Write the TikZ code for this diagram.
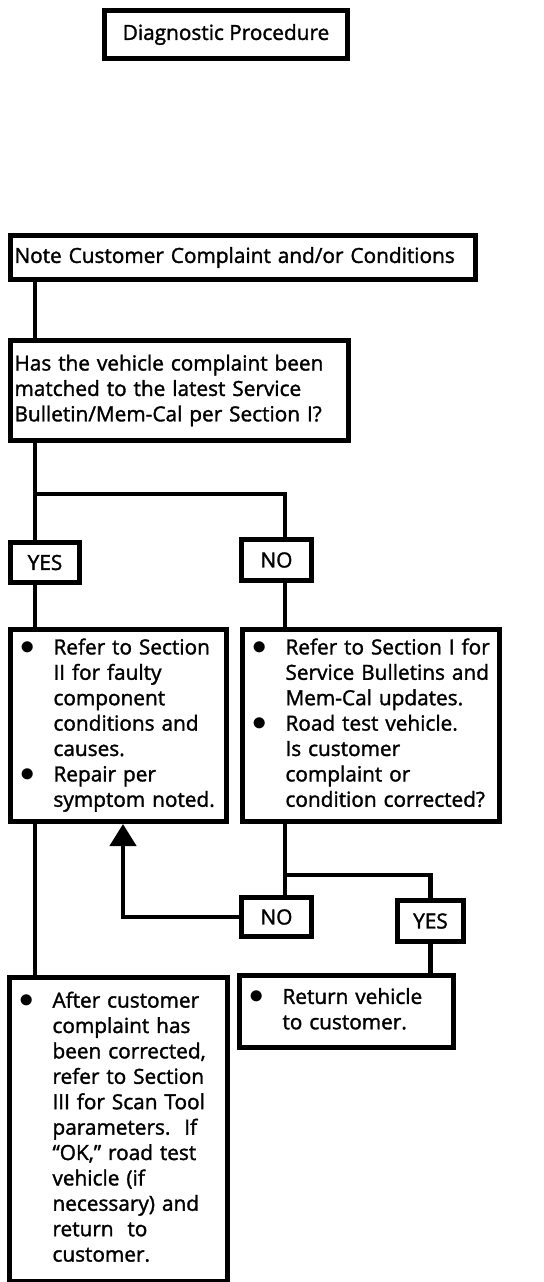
\documentclass[tikz,border=0pt]{standalone}
\usepackage{fontspec}
\setmainfont{Open Sans}[FakeBold=1.6]
\usetikzlibrary{arrows.meta,positioning}

\newcommand{\bul}{{\Large$\bullet$}}

\begin{document}
\begin{tikzpicture}[
  x=0.5pt, y=-0.5pt,
  font=\fontsize{10.4}{12.7}\selectfont,
  box/.style={draw, line width=2.5pt, anchor=north west, align=left, inner xsep=2pt, inner ysep=0pt},
  listbox/.style={box, inner xsep=5pt},
  tag/.style={draw, line width=2.5pt, anchor=north west, inner sep=0pt, align=center},
  wire/.style={line width=2.2pt},
  arr/.style={line width=2.2pt, -{Triangle[width=13pt,length=11pt]}}
]
\useasboundingbox (0,0) rectangle (544,1282);

% Header
\node[tag, minimum width=121.5pt, minimum height=24pt] (title) at (102,8) {Diagnostic Procedure};

% Nodes
\node[box, text width=228.5pt, minimum height=22pt] (note) at (8,233)
  {Note Customer Complaint and/or Conditions};

\node[box, text width=165pt, minimum height=50pt] (match) at (8,338)
  {Has the vehicle complaint been\\matched to the latest Service\\Bulletin/Mem-Cal per Section I?};

\node[tag, minimum width=34.5pt, minimum height=20pt] (yes1) at (8,540) {YES};
\node[tag, minimum width=35pt, minimum height=20.5pt] (no1) at (239,537) {NO};

\node[listbox, text width=98pt, minimum height=96pt] (repair) at (8,627)
  {\begin{tabular}{@{}p{16.5pt}@{}l@{}}
   \bul & Refer to Section\\
        & II for faulty\\
        & component\\
        & conditions and\\
        & causes.\\
   \bul & Repair per\\
        & symptom noted.
   \end{tabular}};

\node[listbox, text width=118.5pt, minimum height=96pt] (check) at (240,627)
  {\begin{tabular}{@{}p{16.5pt}@{}l@{}}
   \bul & Refer to Section I for\\
        & Service Bulletins and\\
        & Mem-Cal updates.\\
   \bul & Road test vehicle.\\
        & Is customer\\
        & complaint or\\
        & condition corrected?
   \end{tabular}};

\node[tag, minimum width=35pt, minimum height=19.5pt] (no2) at (239,895) {NO};
\node[tag, minimum width=33pt, minimum height=20.5pt] (yes2) at (395,898) {YES};

\node[listbox, text width=97pt, minimum height=36pt] (ret) at (237,973)
  {\begin{tabular}{@{}p{16.5pt}@{}l@{}}
   \bul & Return vehicle\\
        & to customer.
   \end{tabular}};

\node[listbox, text width=99pt, minimum height=152pt] (fin) at (7,975)
  {\begin{tabular}{@{}p{16.5pt}@{}l@{}}
   \bul & After customer\\
        & complaint has\\
        & been corrected,\\
        & refer to Section\\
        & III for Scan Tool\\
        & parameters.\ \ If\\
        & “OK,” road test\\
        & vehicle (if\\
        & necessary) and\\
        & return\ \ to\\
        & customer.
   \end{tabular}};

% Connectors
\coordinate (spine) at (35,0);
\coordinate (rcol) at (285,0);
\coordinate (back) at (123,0);
\coordinate (fork) at (35,494);
\coordinate (fork2) at (285,875);

\draw[wire] (note.south -| spine) -- (match.north -| spine);
\draw[wire] (match.south -| spine) -- (yes1.north -| spine);
\draw[wire] (fork) -| (no1.north -| rcol);
\draw[wire] (yes1.south -| spine) -- (repair.north -| spine);
\draw[wire] (no1.south -| rcol) -- (check.north -| rcol);
\draw[wire] (check.south -| rcol) -- (no2.north -| rcol);
\draw[wire] (fork2) -| (yes2.north);
\draw[wire] (repair.south -| spine) -- (fin.north -| spine);
\draw[wire] (yes2.south) -- (ret.north -| yes2.south);

% Loop back (NO)
\draw[arr] (no2.west) -| (repair.south -| back);

\end{tikzpicture}
\end{document}
